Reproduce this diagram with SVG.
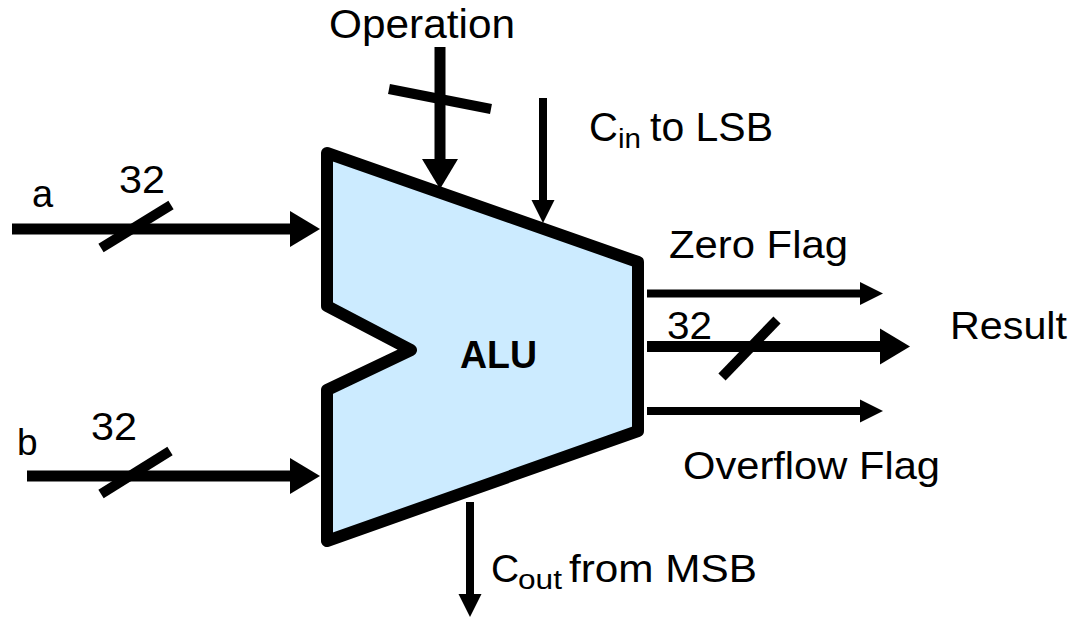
<svg xmlns="http://www.w3.org/2000/svg" width="1074" height="617" viewBox="0 0 1074 617">
  <style>
    .lbl { font-family: "Liberation Sans", Arial, sans-serif; fill: #000; }
    .wire { stroke: #000; fill: none; stroke-linecap: butt; }
    .thick { stroke-width: 11; }
    .thin { stroke-width: 8; }
    .slash { stroke: #000; stroke-width: 10; fill: none; }
    .alu { fill: #CCEBFF; stroke: #000; stroke-width: 12; stroke-linejoin: round; }
  </style>
  <defs>
    <marker id="bigHead" markerUnits="userSpaceOnUse" viewBox="0 -18 30 36" markerWidth="30" markerHeight="36" refX="0" refY="0" orient="auto" overflow="visible">
      <path d="M0,-18 L30,0 L0,18 Z" fill="#000"/>
    </marker>
    <marker id="smallHead" markerUnits="userSpaceOnUse" viewBox="0 -12 23 24" markerWidth="23" markerHeight="24" refX="0" refY="0" orient="auto" overflow="visible">
      <path d="M0,-11.5 L23,0 L0,11.5 Z" fill="#000"/>
    </marker>
  </defs>

  <g id="alu">
    <polygon class="alu" points="327,153 638,262 638,431 327,541 327,390 411,350 327,306"/>
    <text class="lbl" x="460" y="368" font-size="39" font-weight="bold" textLength="77" lengthAdjust="spacingAndGlyphs">ALU</text>
  </g>

  <g id="connectors">
    <!-- input a -->
    <line class="wire thick" x1="12" y1="229" x2="290" y2="229" marker-end="url(#bigHead)"/>
    <line class="slash" x1="101" y1="248" x2="171" y2="205"/>
    <!-- input b -->
    <line class="wire thick" x1="27" y1="476" x2="290" y2="476" marker-end="url(#bigHead)"/>
    <line class="slash" x1="101" y1="494" x2="170" y2="451"/>
    <!-- operation -->
    <line class="wire thick" x1="440" y1="47" x2="440" y2="159" marker-end="url(#bigHead)"/>
    <line class="slash" x1="389" y1="89" x2="491" y2="109" stroke-width="12"/>
    <!-- carry in -->
    <line class="wire thin" x1="543" y1="98" x2="543" y2="200" marker-end="url(#smallHead)"/>
    <!-- zero flag -->
    <line class="wire thin" x1="647" y1="293.5" x2="860" y2="293.5" marker-end="url(#smallHead)"/>
    <!-- result -->
    <line class="wire thick" x1="647" y1="346.5" x2="880" y2="346.5" marker-end="url(#bigHead)"/>
    <line class="slash" x1="722" y1="377" x2="777" y2="320" stroke-width="8"/>
    <!-- overflow -->
    <line class="wire thin" x1="647" y1="411" x2="860" y2="411" marker-end="url(#smallHead)"/>
    <!-- carry out -->
    <line class="wire thin" x1="470" y1="502" x2="470" y2="594" marker-end="url(#smallHead)"/>
  </g>

  <g id="labels">
    <text class="lbl" x="329" y="38" font-size="40" textLength="186" lengthAdjust="spacingAndGlyphs">Operation</text>

    <text class="lbl" x="589" y="141" font-size="40">C</text>
    <text class="lbl" x="618" y="148" font-size="27" textLength="23" lengthAdjust="spacingAndGlyphs">in</text>
    <text class="lbl" x="650" y="141" font-size="41" textLength="123" lengthAdjust="spacingAndGlyphs">to LSB</text>

    <text class="lbl" x="32" y="207" font-size="38">a</text>
    <text class="lbl" x="119" y="193" font-size="38" textLength="46" lengthAdjust="spacingAndGlyphs">32</text>

    <text class="lbl" x="17" y="455" font-size="37">b</text>
    <text class="lbl" x="91" y="440" font-size="38" textLength="46" lengthAdjust="spacingAndGlyphs">32</text>

    <text class="lbl" x="669" y="258" font-size="39" textLength="179" lengthAdjust="spacingAndGlyphs">Zero Flag</text>
    <text class="lbl" x="667" y="339" font-size="38" textLength="45" lengthAdjust="spacingAndGlyphs">32</text>
    <text class="lbl" x="950" y="339" font-size="39" textLength="117" lengthAdjust="spacingAndGlyphs">Result</text>
    <text class="lbl" x="683" y="479" font-size="39" textLength="257" lengthAdjust="spacingAndGlyphs">Overflow Flag</text>

    <text class="lbl" x="491" y="582" font-size="39">C</text>
    <text class="lbl" x="518" y="589" font-size="27" textLength="44" lengthAdjust="spacingAndGlyphs">out</text>
    <text class="lbl" x="569" y="582" font-size="39" textLength="188" lengthAdjust="spacingAndGlyphs">from MSB</text>
  </g>
</svg>
